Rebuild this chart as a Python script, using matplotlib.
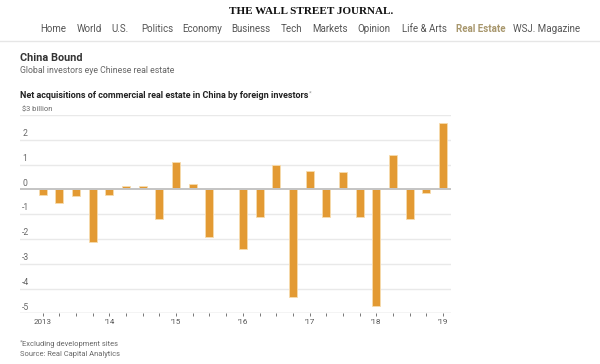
import matplotlib
matplotlib.use("Agg")
import matplotlib.pyplot as plt

# ---- data ----
values = [-0.22, -0.54, -0.28, -2.12,
          -0.22, 0.13, 0.15, -1.18,
          1.12, 0.20, -1.94, 0.04,
          -2.39, -1.13, 0.97, -4.33,
          0.73, -1.13, 0.70, -1.13,
          -4.70, 1.37, -1.20, -0.13,
          2.66]
year_labels = ["2013", "'14", "'15", "'16", "'17", "'18", "'19"]
y_ticks = [3, 2, 1, 0, -1, -2, -3, -4, -5]
y_tick_labels = ["$3 billion", "2", "1", "0", "-1", "-2", "-3", "-4", "-5"]
nav_items = ["Home", "World", "U.S.", "Politics", "Economy", "Business", "Tech",
             "Markets", "Opinion", "Life & Arts", "Real Estate", "WSJ. Magazine"]
nav_centers = [53, 89, 120, 157, 202, 251, 291, 330, 374, 424, 481, 547]

plt.rcParams['font.family'] = ['Roboto', 'DejaVu Sans']

W, H = 600, 364
fig = plt.figure(figsize=(W / 100, H / 100), dpi=100)
fig.patch.set_facecolor('white')


def fx(x):
    return x / W


def fy(y):
    return 1 - y / H


# ---- header ----
fig.text(fx(311), fy(12), "THE WALL STREET JOURNAL.", ha='center', va='center',
         fontsize=8, fontweight='bold', color='#111111',
         family=['Liberation Serif', 'DejaVu Serif'])
for item, cx in zip(nav_items, nav_centers):
    col = '#a8976d' if item == "Real Estate" else '#555555'
    fig.text(fx(cx), fy(29), item, ha='center', va='center', fontsize=7.0, color=col,
             fontweight='bold' if item == "Real Estate" else 'normal')
fig.add_artist(plt.Line2D([0, 1], [fy(41), fy(41)], transform=fig.transFigure,
                          color='#e6e6e6', lw=1))

fig.text(fx(20), fy(58), "China Bound", ha='left', va='center', fontsize=7.8,
         fontweight='bold', color='#333333')
fig.text(fx(20), fy(70.5), "Global investors eye Chinese real estate", ha='left',
         va='center', fontsize=6.3, color='#666666')
fig.text(fx(20), fy(95), "Net acquisitions of commercial real estate in China by foreign investors",
         ha='left', va='center', fontsize=6.45, fontweight='bold', color='#222222')
fig.text(fx(309), fy(93.5), "*", ha='left', va='center', fontsize=4.5, color='#999999')

# ---- axes ----
left_px, right_px = 20, 451
top_px, bottom_px = 115, 313.3
ax = fig.add_axes([fx(left_px), fy(bottom_px), (right_px - left_px) / W,
                   (bottom_px - top_px) / H])
ax.set_facecolor('white')
for s in ax.spines.values():
    s.set_visible(False)

n = len(values)
xs = list(range(n))
ax.set_xlim(-1.36, 24.48)
ax.set_ylim(-5, 3)

for v in y_ticks:
    if v == 0:
        continue
    ax.axhline(v, color='#e9e9e9', lw=1, zorder=0)
ax.axhline(-5, color='#dddddd', lw=1, zorder=0)

ax.bar(xs, values, width=0.48, color='#e39a33', edgecolor='#f7dcae', linewidth=0.6,
       zorder=2)
ax.axhline(0, color='#c4c4c4', lw=1.4, zorder=3)

for v, lab in zip(y_ticks, y_tick_labels):
    ax.annotate(lab, xy=(0.005, v), xycoords=('axes fraction', 'data'),
                xytext=(0, 1.2), textcoords='offset points', ha='left', va='bottom',
                fontsize=5.4 if v == 3 else 6.2, color='#666666')

ax.set_yticks([])
ax.set_xticks(xs)
ax.set_xticklabels([year_labels[i // 4] if i % 4 == 0 else "" for i in xs])
ax.tick_params(axis='x', length=2, width=0.7, color='#777777', pad=2,
               labelsize=5.8, labelcolor='#555555')

# ---- footer ----
fig.text(fx(20), fy(342.5), "*", ha='left', va='center', fontsize=4.5, color='#888888')
fig.text(fx(22.5), fy(344), "Excluding development sites", ha='left', va='center',
         fontsize=5.4, color='#666666')
fig.text(fx(20), fy(354), "Source: Real Capital Analytics", ha='left', va='center',
         fontsize=5.4, color='#666666')

fig.savefig("out.png", dpi=100, facecolor='white')
